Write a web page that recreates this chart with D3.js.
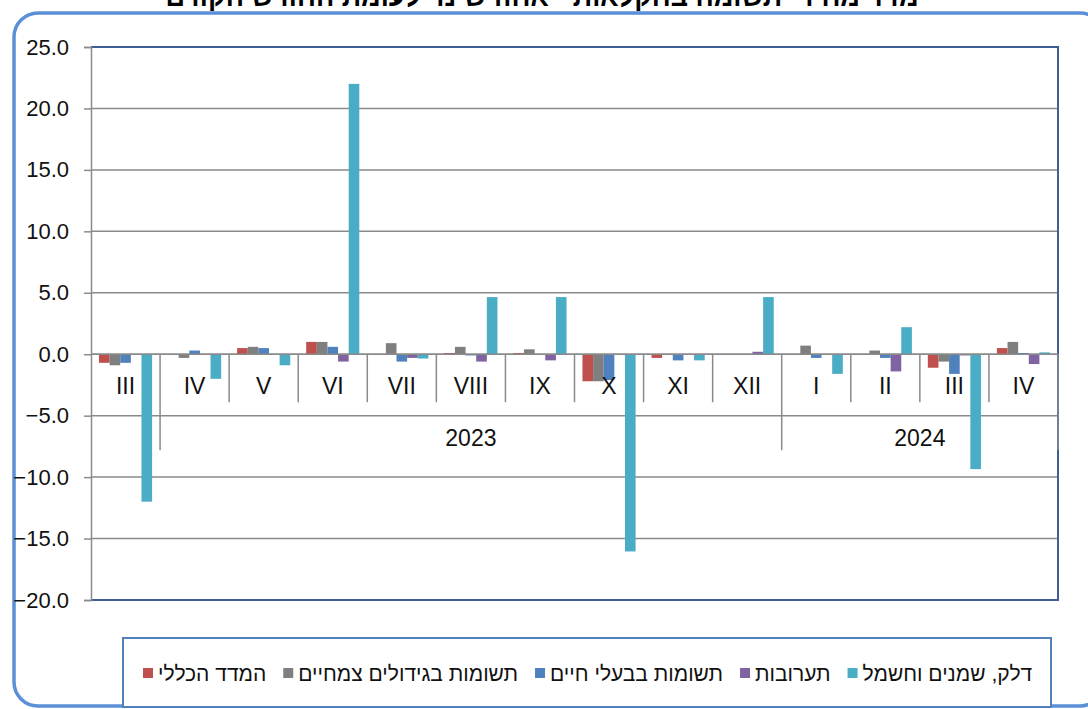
<!DOCTYPE html>
<html>
<head>
<meta charset="utf-8">
<script src="https://cdn.jsdelivr.net/npm/d3@7"></script>
<style>
  html, body { margin: 0; padding: 0; background: #fff; }
  svg { display: block; font-family: "Liberation Sans", Arial, "DejaVu Sans", sans-serif; }
</style>
</head>
<body>
<div id="chart"></div>
<script>
// קטגוריות (חודשים) ושנים
var months = ["III", "IV", "V", "VI", "VII", "VIII", "IX", "X", "XI", "XII", "I", "II", "III", "IV"];
var years = [
  { label: "", from: 0, to: 1 },
  { label: "2023", from: 1, to: 10 },
  { label: "2024", from: 10, to: 14 }
];
var yTicks = [-20, -15, -10, -5, 0, 5, 10, 15, 20, 25];

// סדרות
var seriesNames = ["המדד הכללי", "תשומות בגידולים צמחיים", "תשומות בבעלי חיים", "תערובות", "דלק, שמנים וחשמל"];
var seriesColors = ["#C0504D", "#7F7F7F", "#4F81BD", "#8064A2", "#4BACC6"];
var generalIndex = [-0.7, 0.0, 0.5, 1.0, 0.0, 0.1, 0.1, -2.2, -0.3, 0.0, 0.0, 0.0, -1.1, 0.5];
var plantInputs  = [-0.9, -0.3, 0.6, 1.0, 0.9, 0.6, 0.4, -2.2, 0.0, 0.0, 0.7, 0.3, -0.6, 1.0];
var animalInputs = [-0.7, 0.3, 0.5, 0.6, -0.6, -0.1, 0.0, -2.1, -0.5, 0.0, -0.3, -0.3, -1.6, 0.1];
var feedMixes    = [0.0, 0.0, 0.0, -0.6, -0.3, -0.6, -0.5, 0.0, 0.0, 0.2, 0.0, -1.4, -0.1, -0.8];
var fuelPower    = [-12.0, -2.0, -0.9, 22.0, -0.35, 4.65, 4.65, -16.05, -0.5, 4.65, -1.6, 2.2, -9.35, 0.15];
var allSeries = [generalIndex, plantInputs, animalInputs, feedMixes, fuelPower];

var W = 1088, H = 709;
var pLeft = 91, pRight = 1058, pTop = 47, pBottom = 600;

var svg = d3.select("#chart").append("svg").attr("width", W).attr("height", H);

// כותרת (חתוכה בחלקה העליון)
svg.append("text")
  .attr("x", 542).attr("y", 6)
  .attr("text-anchor", "middle")
  .attr("font-weight", "bold")
  .attr("font-size", 27)
  .text("מדד מחירי תשומה בחקלאות - אחוז שינוי לעומת החודש הקודם");

// מסגרת חיצונית
svg.append("rect")
  .attr("x", 14).attr("y", 13)
  .attr("width", 1090).attr("height", 693)
  .attr("rx", 24)
  .attr("fill", "none")
  .attr("stroke", "#5B8FD8")
  .attr("stroke-width", 3.5);

var x = d3.scaleBand().domain(d3.range(months.length)).range([pLeft, pRight]);
var y = d3.scaleLinear().domain([-20, 25]).range([pBottom, pTop]);
var bw = x.bandwidth() / (allSeries.length + 1.5);

// קווי רשת
svg.append("g").selectAll("line").data(yTicks).enter().append("line")
  .attr("x1", pLeft).attr("x2", pRight)
  .attr("y1", function(d) { return y(d); }).attr("y2", function(d) { return y(d); })
  .attr("stroke", "#8A8A8A").attr("stroke-width", 1.5);

// מסגרת שטח השרטוט
svg.append("path")
  .attr("d", "M" + pLeft + "," + pTop + "H" + pRight + "V" + pBottom + "H" + pLeft)
  .attr("fill", "none").attr("stroke", "#3D5F92").attr("stroke-width", 2);

// ציר Y
var yAxis = svg.append("g").attr("transform", "translate(" + pLeft + ",0)")
  .call(d3.axisLeft(y).tickValues(yTicks).tickSize(7).tickPadding(15).tickFormat(d3.format(".1f")));
yAxis.select(".domain").attr("stroke", "#8A8A8A").attr("stroke-width", 1.5);
yAxis.selectAll(".tick line").attr("stroke", "#8A8A8A").attr("stroke-width", 1.5);
yAxis.selectAll("text").attr("font-size", 22).attr("fill", "#111")
  .attr("font-family", "Liberation Sans, Arial, sans-serif");

// עמודות
allSeries.forEach(function(vals, s) {
  svg.append("g").selectAll("rect").data(vals).enter().append("rect")
    .attr("x", function(d, i) { return x(i) + bw * 0.75 + s * bw; })
    .attr("width", bw)
    .attr("y", function(d) { return y(Math.max(0, d)); })
    .attr("height", function(d) { return Math.abs(y(d) - y(0)); })
    .attr("fill", seriesColors[s]);
});

// ציר קטגוריות
var z = y(0);
svg.append("line").attr("x1", pLeft).attr("x2", pRight).attr("y1", z).attr("y2", z)
  .attr("stroke", "#8A8A8A").attr("stroke-width", 1.5);

var yearBounds = years.map(function(d) { return d.to; });
svg.append("g").selectAll("line").data(d3.range(1, months.length + 1)).enter().append("line")
  .attr("x1", function(i) { return i === months.length ? pRight : x(i); })
  .attr("x2", function(i) { return i === months.length ? pRight : x(i); })
  .attr("y1", z)
  .attr("y2", function(i) { return yearBounds.indexOf(i) >= 0 ? z + 96 : z + 48; })
  .attr("stroke", "#8A8A8A").attr("stroke-width", 1.5);

svg.append("g").selectAll("text").data(months).enter().append("text")
  .attr("x", function(d, i) { return x(i) + x.bandwidth() / 2; })
  .attr("y", z + 40)
  .attr("text-anchor", "middle")
  .attr("font-size", 23).attr("fill", "#111")
  .text(function(d) { return d; });

svg.append("g").selectAll("text").data(years).enter().append("text")
  .attr("x", function(d) { return (x(d.from) + (d.to === months.length ? pRight : x(d.to))) / 2; })
  .attr("y", z + 92)
  .attr("text-anchor", "middle")
  .attr("font-size", 23).attr("fill", "#111")
  .text(function(d) { return d.label; });

// מקרא
svg.append("rect")
  .attr("x", 123).attr("y", 638).attr("width", 928).attr("height", 69)
  .attr("fill", "#fff").attr("stroke", "#4F81BD").attr("stroke-width", 2);

var lg = svg.append("g");
var lx = 143;
seriesNames.forEach(function(name, s) {
  lg.append("rect").attr("x", lx).attr("y", 668).attr("width", 10).attr("height", 10)
    .attr("fill", seriesColors[s]);
  var t = lg.append("text").attr("x", lx + 15).attr("y", 681)
    .attr("font-size", 21).attr("fill", "#111").text(name);
  lx += 15 + t.node().getComputedTextLength() + 17;
});
</script>
</body>
</html>
